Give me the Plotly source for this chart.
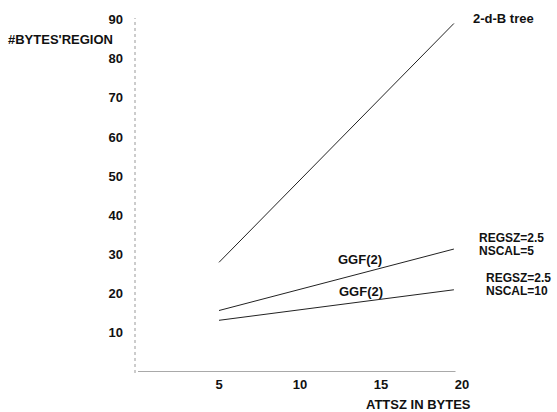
import plotly.graph_objects as go

x_vals = [5, 19.5]
tree_vals = [28.0, 89.0]
ggf_nscal5 = [15.7, 31.4]
ggf_nscal10 = [13.2, 21.0]
x_ticks = [5, 10, 15, 20]
y_ticks = [10, 20, 30, 40, 50, 60, 70, 80, 90]

FONT = "Liberation Sans, Arial, Helvetica, sans-serif"
lab = dict(family=FONT, size=13, color="#111", weight="bold")
lab_small = dict(family=FONT, size=12, color="#111", weight="bold")

L, R, T, B = 138, 95, 15, 40
PW, PH = 557 - L - R, 412 - T - B


def px(xp):
    return (xp - L) / PW


def py(yp):
    return (412 - B - yp) / PH


fig = go.Figure()
for ys in (tree_vals, ggf_nscal5, ggf_nscal10):
    fig.add_trace(go.Scatter(x=x_vals, y=ys, mode="lines",
                             line=dict(color="#222", width=1), showlegend=False,
                             hoverinfo="skip"))

# axis lines
fig.add_shape(type="line", xref="x", yref="y", x0=0, x1=19.6, y0=0, y1=0,
              line=dict(color="#555", width=1.2))
fig.add_shape(type="line", xref="paper", yref="paper", x0=px(135), x1=px(135),
              y0=py(373), y1=py(15), line=dict(color="#999", width=1, dash="dot"))

ann = [
    ("2-d-B tree", 471, 16, lab),
    ("REGSZ=2.5", 477, 237, lab_small),
    ("NSCAL=5", 477, 250, lab_small),
    ("REGSZ=2.5", 484, 277, lab_small),
    ("NSCAL=10", 484, 290, lab_small),
    ("GGF(2)", 336, 259, lab),
    ("GGF(2)", 337, 291, lab),
    ("#BYTES'REGION", 6, 37, lab),
]
for t, x, y, f in ann:
    fig.add_annotation(text=t, x=px(x), y=py(y), xref="paper", yref="paper",
                       showarrow=False, xanchor="left", yanchor="middle", font=f)

fig.add_annotation(text="ATTSZ IN BYTES", x=px(418), y=py(405), xref="paper",
                   yref="paper", showarrow=False, xanchor="center",
                   yanchor="middle", font=lab)

fig.update_layout(
    width=557, height=412,
    margin=dict(l=L, r=R, t=T, b=B),
    paper_bgcolor="white", plot_bgcolor="white",
    xaxis=dict(range=[0, 20], tickvals=x_ticks, showgrid=False, zeroline=False,
               showline=False, ticks="", tickfont=lab, ticklabelstandoff=3),
    yaxis=dict(range=[0, 90.4], tickvals=y_ticks, showgrid=False, zeroline=False,
               showline=False, ticks="", tickfont=lab, ticklabelstandoff=14),
)
fig.write_html("out.html")
